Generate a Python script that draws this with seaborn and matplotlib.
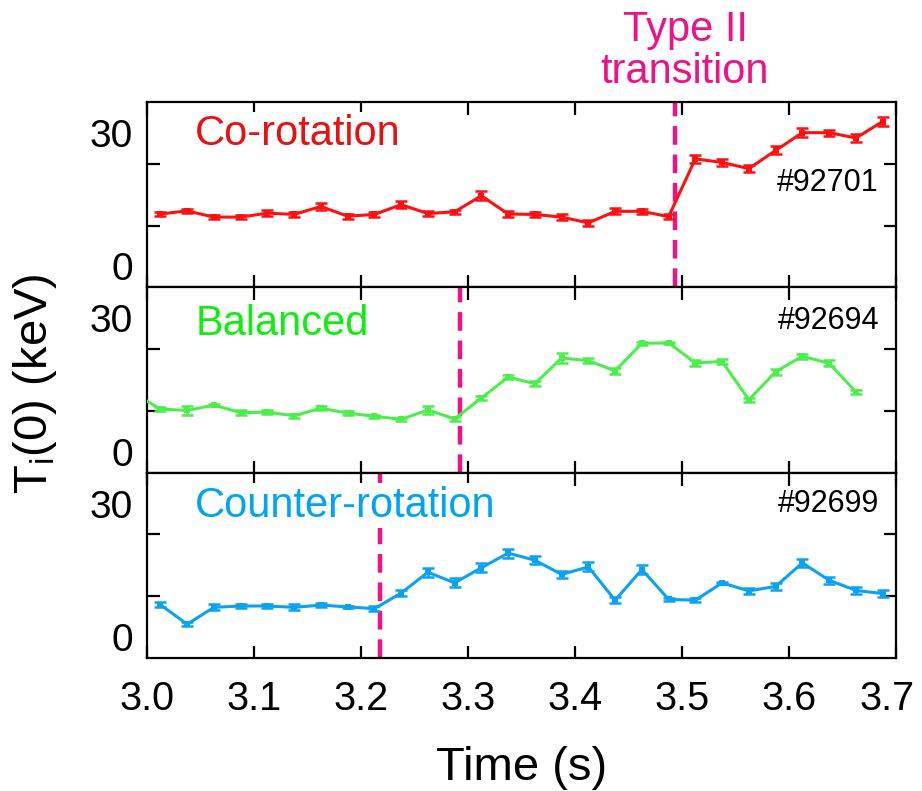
import numpy as np
import pandas as pd
import seaborn as sns
import matplotlib
matplotlib.use("Agg")
import matplotlib.pyplot as plt
from matplotlib.transforms import ScaledTranslation

sns.set_theme(style="white")
plt.rcParams["font.family"] = ["Liberation Sans", "DejaVu Sans"]
plt.rcParams["mathtext.fontset"] = "custom"
plt.rcParams["mathtext.rm"] = "Liberation Sans"

# ---- data -------------------------------------------------------------
t_start = 3.0125
t_step = 0.025

co_ti = [11.8, 12.5, 11.1, 11.1, 12.0, 11.7, 13.5, 11.3, 11.7, 13.9,
         11.9, 12.3, 15.9, 11.8, 11.7, 11.1, 9.8, 12.4, 12.4, 11.2,
         24.2, 23.4, 22.0, 26.1, 30.1, 30.1, 28.9, 32.6]
co_err = [0.5, 0.5, 0.5, 0.5, 0.6, 0.5, 0.8, 0.6, 0.5, 0.8,
          0.6, 0.5, 1.0, 0.6, 0.5, 0.6, 0.6, 0.7, 0.6, 0.6,
          0.9, 0.7, 0.8, 0.9, 1.0, 0.7, 0.8, 1.1]

bal_ti = [13.2, 9.6, 9.3, 10.5, 8.8, 8.9, 8.1, 9.8, 8.7, 8.0,
          7.3, 9.4, 7.4, 12.1, 16.8, 15.3, 21.1, 20.5, 18.2, 24.4,
          24.5, 20.0, 20.3, 11.7, 18.0, 21.5, 19.9, 13.5]
bal_err = [0.4, 0.4, 1.1, 0.3, 0.5, 0.4, 0.5, 0.5, 0.4, 0.3,
           0.4, 1.0, 0.4, 0.4, 0.4, 0.6, 1.1, 0.6, 0.6, 0.3,
           0.3, 0.6, 0.5, 0.5, 0.7, 0.6, 0.7, 0.5]
bal_t0 = t_start - t_step

ctr_ti = [7.3, 2.9, 6.7, 7.0, 7.0, 6.7, 7.2, 6.8, 6.4, 9.9,
          14.6, 12.2, 15.6, 18.9, 17.3, 14.1, 15.8, 8.3, 15.2, 8.5,
          8.3, 12.2, 10.4, 11.4, 16.7, 12.8, 10.5, 9.8]
ctr_err = [0.6, 0.4, 0.7, 0.5, 0.5, 0.7, 0.5, 0.3, 0.6, 0.6,
           1.0, 1.0, 1.0, 1.0, 0.9, 0.8, 1.0, 0.7, 1.1, 0.3,
           0.5, 0.3, 0.6, 0.8, 0.9, 0.8, 0.7, 0.7]

labels = ["Co-rotation", "Balanced", "Counter-rotation"]
shots = ["#92701", "#92694", "#92699"]
transition_t = [3.4935, 3.2925, 3.2178]

line_colors = ["#FF1010", "#4CEE4C", "#0AA2F2"]
text_colors = ["#E81010", "#10EE10", "#00A4F4"]
pink = "#EE1188"

x_ticks = [3.0, 3.1, 3.2, 3.3, 3.4, 3.5, 3.6, 3.7]
y_ticks = [0, 30]
y_lim = (-4.7, 37.0)

def frame(t0, values, errs):
    t = t0 + t_step * np.arange(len(values))
    return pd.DataFrame({"time": t, "ti": values, "err": errs})

series = [frame(t_start, co_ti, co_err),
          frame(bal_t0, bal_ti, bal_err),
          frame(t_start, ctr_ti, ctr_err)]

# ---- figure -----------------------------------------------------------
W, H = 922, 791
fig = plt.figure(figsize=(W / 100, H / 100), dpi=100)
left, right = 147, 896
top, bottom = 102, 658
ph = (bottom - top) / 3

axes = []
for k in range(3):
    y0 = top + k * ph
    ax = fig.add_axes([left / W, 1 - (y0 + ph) / H, (right - left) / W, ph / H])
    axes.append(ax)

for k, ax in enumerate(axes):
    df = series[k]
    c = line_colors[k]
    sns.lineplot(data=df, x="time", y="ti", ax=ax, color=c, lw=2.2,
                 marker="s", markersize=4, markeredgewidth=0, zorder=3)
    ax.errorbar(df["time"], df["ti"], yerr=df["err"], fmt="none", ecolor=c,
                elinewidth=1.8, capsize=4, capthick=1.8, zorder=3)

    ax.set_xlim(3.0, 3.7)
    ax.set_ylim(*y_lim)
    ax.set_xlabel("")
    ax.set_ylabel("")

    # frame and ticks
    for sp in ax.spines.values():
        sp.set_visible(True)
        sp.set_color("black")
        sp.set_linewidth(1.6)
    ax.set_xticks(x_ticks)
    ax.set_yticks(y_ticks)
    thirds = [y_lim[0] + (y_lim[1] - y_lim[0]) * f for f in (1 / 3, 2 / 3)]
    ax.set_yticks(thirds, minor=True)
    ax.tick_params(axis="x", which="major", direction="in", length=9,
                   width=1.6, top=True, bottom=True, color="black",
                   labelcolor="black", labelsize=28.5, pad=16,
                   labelbottom=(k == 2))
    ax.tick_params(axis="y", which="major", length=0, labelsize=28,
                   labelcolor="black", pad=10, left=True, right=False)
    ax.tick_params(axis="y", which="minor", direction="in", length=9,
                   width=1.6, left=True, right=True, color="black")
    ax.grid(False)
    ax.set_facecolor("white")

    # transition marker
    ax.axvline(transition_t[k], color=pink, lw=3.2, ls=(0, (4.2, 2.2)),
               zorder=2)

    # panel annotations
    ty = [29.8, 28.7, 29.6][k]
    ax.text(3.045, ty, labels[k], color=text_colors[k], fontsize=30,
            ha="left", va="center", zorder=4,
            bbox=dict(boxstyle="square,pad=0.05", fc="white", ec="none"))
    sy = [18.8, 29.4, 30.0][k]
    ax.text(3.684, sy, shots[k], color="black", fontsize=22,
            ha="right", va="center", zorder=4)

axes[2].set_xlabel("Time (s)", fontsize=34, labelpad=20, color="black")
axes[2].set_xticklabels([f"{v:.1f}" for v in x_ticks])
# keep the last tick label inside the canvas
last = axes[2].get_xticklabels()[-1]
last.set_transform(last.get_transform()
                   + ScaledTranslation(-0.09, 0, fig.dpi_scale_trans))

fig.text(35 / W, 1 - 384 / H, r"T$_\mathregular{i}$(0) (keV)", rotation=90,
         fontsize=34, ha="center", va="center", color="black")

fig.text(685 / W, 1 - 51 / H, "Type II\ntransition", color=pink,
         fontsize=30, ha="center", va="center", linespacing=1.08)

fig.savefig("out.png", dpi=100, facecolor="white")
